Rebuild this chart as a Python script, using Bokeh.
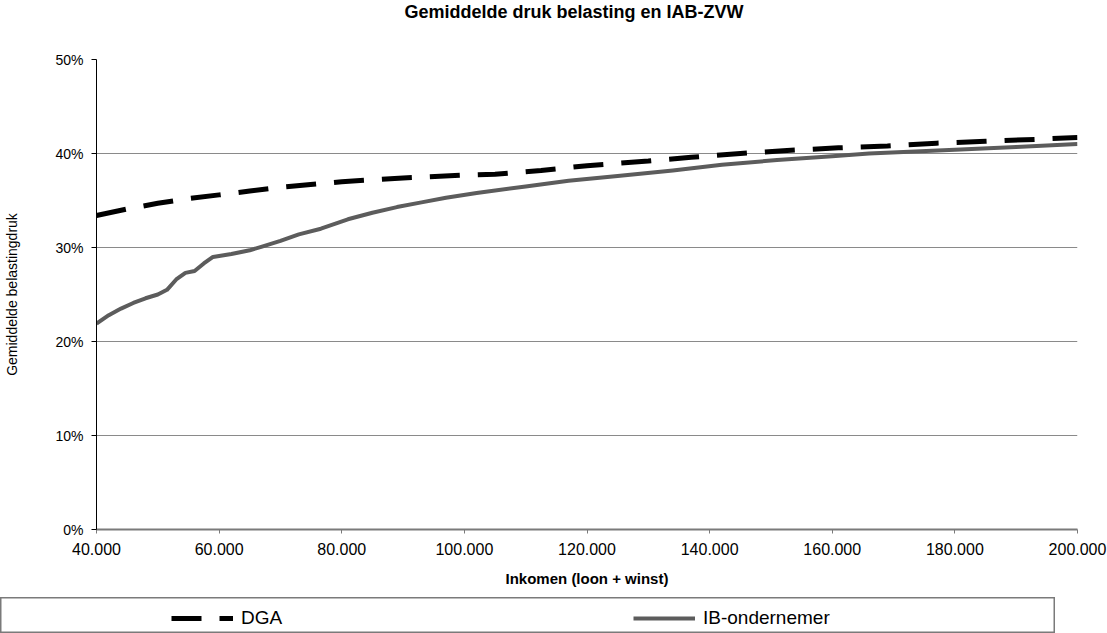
from bokeh.plotting import figure
from bokeh.models import FixedTicker, Legend, LegendItem, Range1d, Title
from bokeh.embed import file_html
from bokeh.resources import INLINE

# ---- data ----
income_dga = [40000, 45000, 50000, 55000, 60000, 65000, 70000, 80000, 90000, 100000,
              105000, 112500, 120000, 130000, 137000, 145000, 152000, 161000, 169000,
              177000, 185000, 193000, 200000]
dga = [33.4, 34.1, 34.7, 35.2, 35.6, 36.0, 36.4, 37.0, 37.4, 37.7,
       37.8, 38.2, 38.7, 39.2, 39.6, 40.0, 40.3, 40.6, 40.8,
       41.1, 41.3, 41.5, 41.7]

income_ib = [40000, 42000, 44000, 46000, 48000, 50000, 51500, 53000, 54500, 56000,
             57500, 59000, 62000, 65000, 67000, 70000, 73000, 76600, 81000, 85000,
             89000, 93000, 97000, 102000, 110000, 117000, 125000, 134000, 142000,
             151000, 160000, 166000, 180000, 190000, 200000]
ib = [21.9, 22.8, 23.5, 24.1, 24.6, 25.0, 25.5, 26.6, 27.3, 27.5,
      28.3, 29.0, 29.3, 29.7, 30.1, 30.7, 31.4, 32.0, 33.0, 33.7,
      34.3, 34.8, 35.3, 35.8, 36.5, 37.1, 37.6, 38.2, 38.8,
      39.3, 39.7, 40.0, 40.4, 40.7, 41.0]

x_ticks = [40000, 60000, 80000, 100000, 120000, 140000, 160000, 180000, 200000]
x_tick_labels = ["40.000", "60.000", "80.000", "100.000", "120.000", "140.000",
                 "160.000", "180.000", "200.000"]
y_ticks = [0, 10, 20, 30, 40, 50]
y_tick_labels = ["0%", "10%", "20%", "30%", "40%", "50%"]

title_text = "Gemiddelde druk belasting en IAB-ZVW"
x_label = "Inkomen (loon + winst)"
y_label = "Gemiddelde belastingdruk"
series_names = ["DGA", "IB-ondernemer"]

FONT = "Liberation Sans"
DGA_STYLE = dict(line_color="black", line_width=5, line_dash="30 18")
IB_STYLE = dict(line_color="#5c5c5c", line_width=4, line_join="round")

# ---- main chart ----
p = figure(width=1107, height=597, output_backend="svg", toolbar_location=None,
           x_range=Range1d(40000, 200000), y_range=Range1d(0, 50),
           min_border_left=96, min_border_right=30, min_border_top=59,
           min_border_bottom=68)
p.outline_line_color = None
p.background_fill_color = "white"
p.border_fill_color = "white"

p.title.text = title_text
p.title.align = "left"
p.title.offset = 308
p.title.vertical_align = "top"
p.title.text_font = FONT
p.title.text_font_size = "18px"
p.title.text_font_style = "bold"
p.title.text_color = "black"
p.title.standoff = 2
# spacer between the title and the plot area
p.add_layout(Title(text=" ", text_font=FONT, text_font_size="13px", standoff=18), "above")

p.xgrid.visible = False
p.ygrid.ticker = FixedTicker(ticks=y_ticks)
p.ygrid.grid_line_color = "#8a8a8a"
p.ygrid.grid_line_width = 1

p.yaxis.ticker = FixedTicker(ticks=y_ticks)
p.yaxis.major_label_overrides = {t: l for t, l in zip(y_ticks, y_tick_labels)}
p.yaxis.axis_line_color = "black"
p.yaxis.axis_line_width = 1
p.yaxis.major_tick_out = 5
p.yaxis.major_tick_in = 0
p.yaxis.major_tick_line_color = "black"
p.yaxis.minor_tick_line_color = None
p.yaxis.major_label_standoff = 8
p.yaxis.major_label_text_font = FONT
p.yaxis.major_label_text_font_size = "14px"
p.yaxis.major_label_text_color = "black"
p.yaxis.axis_label = y_label
p.yaxis.axis_label_text_font = FONT
p.yaxis.axis_label_text_font_size = "14px"
p.yaxis.axis_label_text_font_style = "normal"
p.yaxis.axis_label_text_color = "black"
p.yaxis.axis_label_standoff = 32

p.xaxis.ticker = FixedTicker(ticks=x_ticks)
p.xaxis.major_label_overrides = {t: l for t, l in zip(x_ticks, x_tick_labels)}
p.xaxis.axis_line_color = "#7a7a7a"
p.xaxis.axis_line_width = 2
p.xaxis.major_tick_out = 4
p.xaxis.major_tick_in = 0
p.xaxis.major_tick_line_color = "#7a7a7a"
p.xaxis.minor_tick_line_color = None
p.xaxis.major_label_standoff = 9
p.xaxis.major_label_text_font = FONT
p.xaxis.major_label_text_font_size = "16px"
p.xaxis.major_label_text_color = "black"
p.xaxis.axis_label = x_label
p.xaxis.axis_label_text_font = FONT
p.xaxis.axis_label_text_font_size = "15px"
p.xaxis.axis_label_text_font_style = "bold"
p.xaxis.axis_label_text_color = "black"
p.xaxis.axis_label_standoff = 12

p.line(income_ib, ib, **IB_STYLE)
p.line(income_dga, dga, **DGA_STYLE)

# ---- legend strip (its own figure; series drawn off-view, only the key shows) ----
q = figure(width=1055, height=36, output_backend="svg", toolbar_location=None,
           x_range=Range1d(0, 1), y_range=Range1d(0, 1),
           x_axis_type=None, y_axis_type=None, min_border=0)
q.xgrid.visible = False
q.ygrid.visible = False
q.outline_line_color = "#7a7a7a"
q.outline_line_width = 2
q.background_fill_color = "white"
q.border_fill_color = "white"

l_dga = q.line(income_dga, dga, **DGA_STYLE)
l_ib = q.line(income_ib, ib, **IB_STYLE)
legend = Legend(items=[LegendItem(label=series_names[0], renderers=[l_dga]),
                       LegendItem(label=series_names[1], renderers=[l_ib])],
                orientation="horizontal", location=(171, 4),
                glyph_width=62, glyph_height=20, label_standoff=8,
                label_width=392, spacing=0, padding=4, margin=0,
                label_text_font=FONT, label_text_font_size="19px",
                label_text_color="black",
                border_line_color=None, background_fill_alpha=0.0)
q.add_layout(legend, "center")

open("out.html", "w").write(file_html([p, q], INLINE))
